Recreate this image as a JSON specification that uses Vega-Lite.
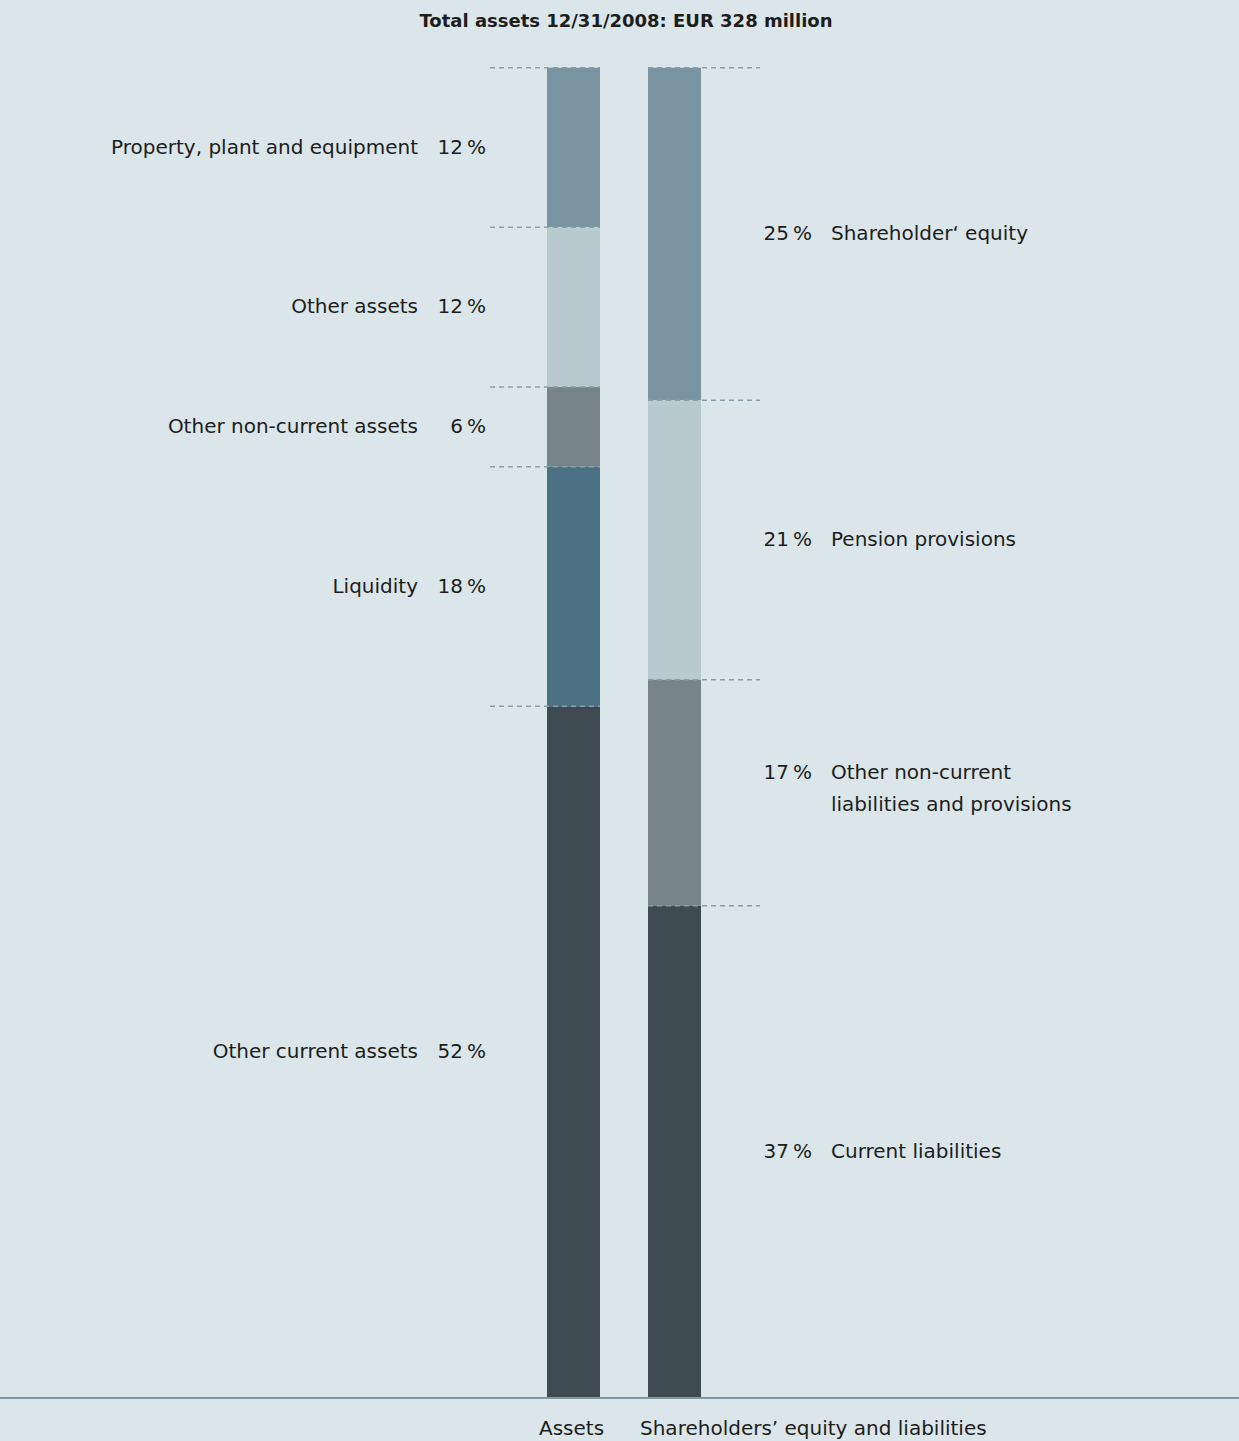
{
  "$schema": "https://vega.github.io/schema/vega-lite/v6.json",
  "width": 1239,
  "height": 1441,
  "autosize": {"type": "none"},
  "padding": 0,
  "background": "#dbe6eb",
  "config": {
    "view": {"stroke": null},
    "font": "DejaVu Sans",
    "text": {"font": "DejaVu Sans", "fontSize": 20, "color": "#1d1d1b"},
    "locale": {"number": {"decimal": ".", "thousands": ",", "grouping": [3], "currency": ["", ""], "percent": "\u2009%"}}
  },
  "datasets": {
    "balance": [
      {"side": "Assets", "item": "Property, plant and equipment", "seq": 1, "share": 0.12},
      {"side": "Assets", "item": "Other assets", "seq": 2, "share": 0.12},
      {"side": "Assets", "item": "Other non-current assets", "seq": 3, "share": 0.06},
      {"side": "Assets", "item": "Liquidity", "seq": 4, "share": 0.18},
      {"side": "Assets", "item": "Other current assets", "seq": 5, "share": 0.52},
      {"side": "Liabilities", "item": "Shareholder‘ equity", "seq": 1, "share": 0.25},
      {"side": "Liabilities", "item": "Pension provisions", "seq": 2, "share": 0.21},
      {"side": "Liabilities", "item": "Other non-current\nliabilities and provisions", "seq": 3, "share": 0.17},
      {"side": "Liabilities", "item": "Current liabilities", "seq": 4, "share": 0.37}
    ],
    "columns": [
      {"side": "Assets", "caption": "Assets"},
      {"side": "Liabilities", "caption": "Shareholders’ equity and liabilities"}
    ],
    "heading": [{"text": "Total assets 12/31/2008: EUR 328 million"}]
  },
  "layer": [
    {
      "data": {"name": "balance"},
      "mark": {"type": "bar"},
      "encoding": {
        "x": {"field": "side", "type": "nominal", "scale": {"type": "band", "domain": ["Assets", "Liabilities"], "range": [547, 701], "paddingInner": 0.4752, "paddingOuter": 0}, "axis": null},
        "y": {"field": "share", "type": "quantitative", "stack": "zero", "scale": {"domain": [-0.03232, 1.05089], "nice": false, "zero": false}, "axis": null},
        "color": {"field": "item", "type": "nominal", "legend": null, "scale": {
          "domain": ["Property, plant and equipment", "Other assets", "Other non-current assets", "Liquidity", "Other current assets", "Shareholder‘ equity", "Pension provisions", "Other non-current\nliabilities and provisions", "Current liabilities"],
          "range": ["#7b94a1", "#b9c9d0", "#77858b", "#4a7082", "#3e4b53", "#7b94a1", "#b9c9d0", "#77858b", "#3e4b53"]}},
        "order": {"field": "seq", "sort": "descending"}
      }
    },
    {
      "data": {"name": "balance"},
      "transform": [{"filter": {"field": "side", "equal": "Assets"}}],
      "mark": {"type": "rule", "color": "#899fab", "strokeWidth": 1.5, "strokeDash": [5, 4], "xOffset": -83.5, "x2Offset": 26.5},
      "encoding": {
        "x": {"field": "side", "type": "nominal"},
        "x2": {"field": "side"},
        "y": {"field": "share", "type": "quantitative", "stack": "zero"},
        "order": {"field": "seq", "sort": "descending"}
      }
    },
    {
      "data": {"name": "balance"},
      "transform": [{"filter": {"field": "side", "equal": "Liabilities"}}],
      "mark": {"type": "rule", "color": "#899fab", "strokeWidth": 1.5, "strokeDash": [5, 4], "xOffset": -26.5, "x2Offset": 85.5},
      "encoding": {
        "x": {"field": "side", "type": "nominal"},
        "x2": {"field": "side"},
        "y": {"field": "share", "type": "quantitative", "stack": "zero"},
        "order": {"field": "seq", "sort": "descending"}
      }
    },
    {
      "data": {"name": "balance"},
      "transform": [{"filter": {"field": "side", "equal": "Assets"}}],
      "mark": {"type": "text", "align": "right", "baseline": "middle", "dx": -155.5},
      "encoding": {
        "x": {"field": "side", "type": "nominal"},
        "y": {"field": "share", "type": "quantitative", "stack": "zero", "bandPosition": 0.5},
        "order": {"field": "seq", "sort": "descending"},
        "text": {"field": "item", "type": "nominal"}
      }
    },
    {
      "data": {"name": "balance"},
      "transform": [{"filter": {"field": "side", "equal": "Assets"}}],
      "mark": {"type": "text", "align": "right", "baseline": "middle", "dx": -87.5},
      "encoding": {
        "x": {"field": "side", "type": "nominal"},
        "y": {"field": "share", "type": "quantitative", "stack": "zero", "bandPosition": 0.5},
        "order": {"field": "seq", "sort": "descending"},
        "text": {"field": "share", "type": "quantitative", "format": ".0%"}
      }
    },
    {
      "data": {"name": "balance"},
      "transform": [{"filter": {"field": "side", "equal": "Liabilities"}}],
      "mark": {"type": "text", "align": "left", "baseline": "middle", "dx": 156.5},
      "encoding": {
        "x": {"field": "side", "type": "nominal"},
        "y": {"field": "share", "type": "quantitative", "stack": "zero", "bandPosition": 0.5},
        "order": {"field": "seq", "sort": "descending"},
        "text": {"field": "item", "type": "nominal"},
        "opacity": {"condition": {"test": "indexof(datum.item, '\\n') >= 0", "value": 0}, "value": 1}
      }
    },
    {
      "data": {"name": "balance"},
      "transform": [{"filter": {"field": "side", "equal": "Liabilities"}}],
      "mark": {"type": "text", "align": "left", "baseline": "middle", "dx": 156.5, "dy": -19.5, "lineBreak": "\n", "lineHeight": 32},
      "encoding": {
        "x": {"field": "side", "type": "nominal"},
        "y": {"field": "share", "type": "quantitative", "stack": "zero", "bandPosition": 0.5},
        "order": {"field": "seq", "sort": "descending"},
        "text": {"field": "item", "type": "nominal"},
        "opacity": {"condition": {"test": "indexof(datum.item, '\\n') >= 0", "value": 1}, "value": 0}
      }
    },
    {
      "data": {"name": "balance"},
      "transform": [{"filter": {"field": "side", "equal": "Liabilities"}}],
      "mark": {"type": "text", "align": "right", "baseline": "middle", "dx": 137.5},
      "encoding": {
        "x": {"field": "side", "type": "nominal"},
        "y": {"field": "share", "type": "quantitative", "stack": "zero", "bandPosition": 0.5},
        "order": {"field": "seq", "sort": "descending"},
        "text": {"field": "share", "type": "quantitative", "format": ".0%"},
        "opacity": {"condition": {"test": "indexof(datum.item, '\\n') >= 0", "value": 0}, "value": 1}
      }
    },
    {
      "data": {"name": "balance"},
      "transform": [{"filter": {"field": "side", "equal": "Liabilities"}}],
      "mark": {"type": "text", "align": "right", "baseline": "middle", "dx": 137.5, "dy": -19.5},
      "encoding": {
        "x": {"field": "side", "type": "nominal"},
        "y": {"field": "share", "type": "quantitative", "stack": "zero", "bandPosition": 0.5},
        "order": {"field": "seq", "sort": "descending"},
        "text": {"field": "share", "type": "quantitative", "format": ".0%"},
        "opacity": {"condition": {"test": "indexof(datum.item, '\\n') >= 0", "value": 1}, "value": 0}
      }
    },
    {
      "data": {"name": "columns"},
      "mark": {"type": "rule", "color": "#7f97a3", "strokeWidth": 2},
      "encoding": {
        "y": {"datum": 0, "type": "quantitative"}
      }
    },
    {
      "data": {"name": "columns"},
      "mark": {"type": "text", "align": "left", "baseline": "alphabetic", "dx": -34.5},
      "encoding": {
        "x": {"field": "side", "type": "nominal"},
        "y": {"datum": -0.02781, "type": "quantitative"},
        "text": {"field": "caption", "type": "nominal"}
      }
    },
    {
      "data": {"name": "heading"},
      "mark": {"type": "text", "align": "center", "baseline": "alphabetic", "fontWeight": "bold", "fontSize": 18, "dx": 6.5},
      "encoding": {
        "y": {"datum": 1.03059, "type": "quantitative"},
        "text": {"field": "text", "type": "nominal"}
      }
    }
  ]
}
